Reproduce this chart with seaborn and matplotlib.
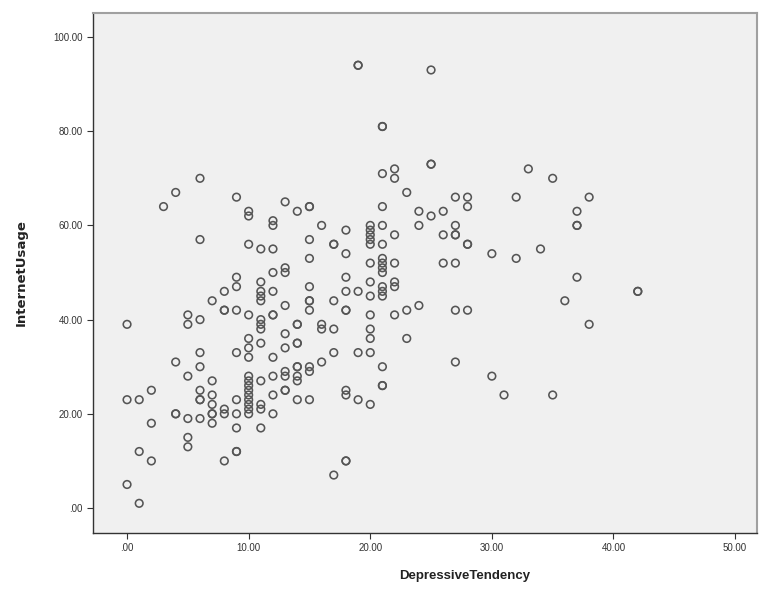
import pandas as pd
import seaborn as sns
import matplotlib.pyplot as plt
from matplotlib.ticker import FuncFormatter

# Depressive tendency (x) and internet usage (y)
depressive = [6, 4, 3, 9, 10, 10, 12, 12, 13, 14,
              15, 15, 16, 17, 17, 15, 15, 6, 10, 11,
              12, 12, 13, 13, 9, 9, 8, 7, 11, 11,
              11, 11, 12, 15, 15, 15, 15, 17, 8, 8,
              9, 10, 12, 12, 13, 5, 5, 6, 0, 11,
              11, 11, 14, 14, 16, 16, 17, 13, 14, 14,
              13, 10, 10, 10, 11, 9, 6, 12, 17, 4,
              6, 14, 14, 15, 16, 13,
              19, 19, 25, 21, 21, 25, 25, 21, 22, 22, 33, 35,
              23, 27, 28, 32, 21, 24, 25, 26, 28, 37,
              37, 37, 20, 21, 24, 27, 20, 20, 20, 20,
              18, 18, 21, 22, 26, 27, 27, 28, 28, 30,
              32, 34, 37, 36, 20, 21, 21, 21, 21, 22,
              26, 27, 18, 20, 21, 21, 21, 22, 22, 18,
              19, 20, 18, 18, 20, 22, 23, 24, 27, 28,
              20, 20, 23, 19, 20, 21, 27,
              5, 7, 6, 6, 6, 7, 7, 7, 7, 7,
              2, 0, 1, 2, 4, 4, 5, 6, 5, 5,
              1, 2, 0, 1, 8, 8, 9, 9, 9, 9,
              9, 8, 10, 10, 10, 10, 10, 10, 10, 10,
              10, 11, 11, 11, 11, 12, 12, 12, 13, 13,
              13, 14, 14, 15, 14, 15, 17,
              18, 18, 19, 20, 21, 21, 30, 31, 35, 18,
              18, 38, 42, 42, 38]

internet = [70, 67, 64, 66, 63, 62, 61, 60, 65, 63,
            64, 64, 60, 56, 56, 57, 53, 57, 56, 55,
            55, 50, 51, 50, 49, 47, 46, 44, 48, 46,
            45, 44, 46, 47, 44, 44, 42, 44, 42, 42,
            42, 41, 41, 41, 43, 41, 39, 40, 39, 40,
            39, 38, 39, 39, 39, 38, 38, 37, 35, 35,
            34, 36, 34, 32, 35, 33, 33, 32, 33, 31,
            30, 30, 30, 30, 31, 29,
            94, 94, 93, 81, 81, 73, 73, 71, 72, 70, 72, 70,
            67, 66, 66, 66, 64, 63, 62, 63, 64, 63,
            60, 60, 60, 60, 60, 60, 59, 58, 57, 56,
            59, 54, 56, 58, 58, 58, 58, 56, 56, 54,
            53, 55, 49, 44, 52, 53, 52, 51, 50, 52,
            52, 52, 49, 48, 47, 46, 45, 48, 47, 46,
            46, 45, 42, 42, 41, 41, 42, 43, 42, 42,
            38, 36, 36, 33, 33, 30, 31,
            28, 27, 25, 23, 23, 24, 22, 20, 20, 18,
            25, 23, 23, 18, 20, 20, 19, 19, 15, 13,
            12, 10, 5, 1, 21, 20, 23, 20, 17, 12,
            12, 10, 28, 27, 26, 25, 24, 23, 22, 21,
            20, 27, 22, 21, 17, 28, 24, 20, 28, 25,
            25, 28, 27, 29, 23, 23, 7,
            25, 24, 23, 22, 26, 26, 28, 24, 24, 10,
            10, 66, 46, 46, 39]

df = pd.DataFrame({'DepressiveTendency': depressive, 'InternetUsage': internet})

plt.rcParams['font.family'] = ['Liberation Sans', 'DejaVu Sans']

fig = plt.figure(figsize=(7.61, 5.98), dpi=100)
ax = fig.add_axes([0.1222, 0.1087, 0.8725, 0.8696])
ax.set_facecolor('#f0f0f0')

sns.scatterplot(data=df, x='DepressiveTendency', y='InternetUsage', ax=ax,
                marker='o', s=30, facecolors='none', edgecolor='#555555',
                linewidth=1.15, zorder=3)

ax.set_xlim(-2.8, 51.8)
ax.set_ylim(-5.3, 105.1)
ax.set_xticks([0, 10, 20, 30, 40, 50])
ax.set_yticks([0, 20, 40, 60, 80, 100])

# SPSS style labels: ".00", "10.00"
fmt = FuncFormatter(lambda v, p: ('%.2f' % v).lstrip('0') if v == 0 else '%.2f' % v)
ax.xaxis.set_major_formatter(fmt)
ax.yaxis.set_major_formatter(fmt)
ax.tick_params(labelsize=7, colors='#333333', length=4, width=0.8)

for side in ['left', 'bottom']:
    ax.spines[side].set_color('#333333')
    ax.spines[side].set_linewidth(1.0)
for side in ['top', 'right']:
    ax.spines[side].set_color('#a0a0a0')
    ax.spines[side].set_linewidth(1.5)

ax.set_xlabel('DepressiveTendency', fontsize=9.5, fontweight='bold', color='#222222')
ax.set_ylabel('InternetUsage', fontsize=9.5, fontweight='bold', color='#222222',
              family=['DejaVu Sans'])
# label positions as in the source (x label sits right of centre)
ax.xaxis.set_label_coords(0.56, -0.072)
ax.yaxis.set_label_coords(-0.099, 0.5)

fig.savefig('out.png', dpi=100)
